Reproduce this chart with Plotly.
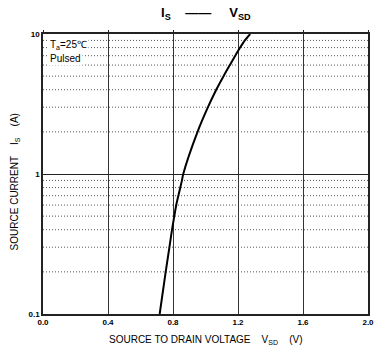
import plotly.graph_objects as go

# Data
vsd = [0.718, 0.755, 0.778, 0.794, 0.808, 0.820, 0.833, 0.845, 0.855, 0.863,
       0.951, 1.015, 1.066, 1.111, 1.150, 1.183, 1.213, 1.242, 1.275]
i_s = [0.1, 0.2, 0.3, 0.4, 0.5, 0.6, 0.7, 0.8, 0.9, 1.0,
       2, 3, 4, 5, 6, 7, 8, 9, 10]

x_ticks = [0.0, 0.4, 0.8, 1.2, 1.6, 2.0]
y_ticks = [0.1, 1, 10]
y_minor = [m * d for d in (0.1, 1) for m in range(2, 10)]

FONT = "Liberation Sans, Arial, sans-serif"

fig = go.Figure()
fig.add_trace(go.Scatter(x=vsd, y=i_s, mode="lines",
                         line=dict(color="black", width=2, shape="spline", smoothing=0.8),
                         hoverinfo="skip", showlegend=False))
fig.add_trace(go.Scatter(x=[None], y=[None], xaxis="x2", showlegend=False))

shapes = []
for yv in y_minor:
    shapes.append(dict(type="line", xref="x domain", yref="y", x0=0, x1=1, y0=yv, y1=yv,
                       line=dict(color="#555555", width=1, dash="1px,2px"), layer="below"))

fig.update_layout(
    width=388, height=354,
    margin=dict(l=43, r=20, t=34, b=40),
    paper_bgcolor="white", plot_bgcolor="white",
    font=dict(family=FONT, color="black"),
    shapes=shapes,
    xaxis=dict(range=[0, 2], tickvals=x_ticks, ticktext=[f"{v:.1f}" for v in x_ticks],
               showgrid=True, gridcolor="#333333", gridwidth=1,
               showline=True, linecolor="#222222", linewidth=1.5, mirror=True,
               ticks="", tickfont=dict(size=8, family=FONT, weight="bold"),
               zeroline=False),
    xaxis2=dict(range=[0, 2], tickvals=x_ticks, overlaying="x", side="top",
                ticks="outside", ticklen=3, tickcolor="#222222", showticklabels=False,
                showgrid=False, zeroline=False, showline=False),
    yaxis=dict(type="log", range=[-1, 1], tickvals=y_ticks, ticktext=["0.1", "1", "10"],
               showgrid=True, gridcolor="#222222", gridwidth=1,
               showline=True, linecolor="#222222", linewidth=1.5, mirror=True,
               ticks="", tickfont=dict(size=8, family=FONT, weight="bold"),
               zeroline=False),
    annotations=[
        dict(text="<b>I<sub>S</sub>    ——     V<sub>SD</sub></b>",
             xref="paper", yref="paper", x=0.5, y=1, yshift=10, xanchor="center", yanchor="bottom",
             showarrow=False, font=dict(size=13, family=FONT)),
        dict(text="SOURCE TO DRAIN VOLTAGE    V<sub>SD</sub>    (V)",
             xref="paper", yref="paper", x=0.5, y=0, yshift=-18, xanchor="center", yanchor="top",
             showarrow=False, font=dict(size=10, family=FONT)),
        dict(text="SOURCE CURRENT    I<sub>S</sub>    (A)", textangle=-90,
             xref="paper", yref="paper", x=0, xshift=-28, y=0.47, xanchor="center", yanchor="middle",
             showarrow=False, font=dict(size=10, family=FONT)),
        dict(text="T<sub>a</sub>=25℃", xref="paper", yref="paper", x=0, xshift=5, y=1, yshift=-3,
             xanchor="left", yanchor="top", showarrow=False, bgcolor="white",
             font=dict(size=10, family=FONT)),
        dict(text="Pulsed", xref="paper", yref="paper", x=0, xshift=5, y=1, yshift=-17,
             xanchor="left", yanchor="top", showarrow=False, bgcolor="white",
             font=dict(size=10, family=FONT)),
    ],
)

fig.write_html("out.html")
